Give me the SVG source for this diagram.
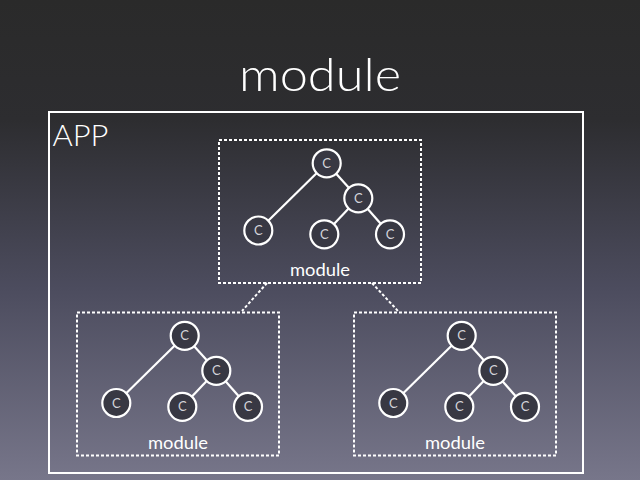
<svg xmlns="http://www.w3.org/2000/svg" width="640" height="480" viewBox="0 0 640 480">
<defs>
<linearGradient id="bg" x1="0" y1="0" x2="0" y2="1">
<stop offset="0" stop-color="#2a2a2a"/>
<stop offset="0.25" stop-color="#2d2d30"/>
<stop offset="0.6" stop-color="#4c4c5e"/>
<stop offset="1" stop-color="#77768a"/>
</linearGradient>
</defs>
<style>
text{font-family:"Lato","Helvetica Neue","Liberation Sans",Arial,sans-serif;fill:#ffffff;font-weight:300;}
.edge{stroke:#ffffff;stroke-width:2.2;}
.node{fill:#383843;stroke:#ffffff;stroke-width:2.2;}
.c{font-size:13px;text-anchor:middle;fill:#d4d4da;font-weight:400;}
.lbl{font-size:17px;text-anchor:middle;fill:#ffffff;font-weight:400;}
.dash{fill:none;stroke:#ffffff;stroke-width:2;stroke-dasharray:3 2;}
.conn{stroke:#ffffff;stroke-width:2;stroke-dasharray:3 2;fill:none;}
</style>
<rect x="0" y="0" width="640" height="480" fill="url(#bg)"/>
<text x="320" y="90.5" font-size="46" text-anchor="middle" textLength="162" lengthAdjust="spacingAndGlyphs">module</text>
<g id="app">
<rect x="49" y="112" width="534" height="361" fill="none" stroke="#ffffff" stroke-width="2"/>
<text x="52.5" y="145.5" font-size="30" textLength="56" lengthAdjust="spacingAndGlyphs">APP</text>
</g>
<g id="connectors">
<line class="conn" x1="267" y1="283" x2="242" y2="311"/>
<line class="conn" x1="372" y1="283" x2="398" y2="311"/>
</g>
<g id="module-top">
<rect x="219" y="140" width="202" height="143" class="dash"/>
<line class="edge" x1="326.7" y1="163.3" x2="258.3" y2="230.5"/>
<line class="edge" x1="326.7" y1="163.3" x2="358.3" y2="198.3"/>
<line class="edge" x1="358.3" y1="198.3" x2="324.3" y2="234.3"/>
<line class="edge" x1="358.3" y1="198.3" x2="390" y2="234.3"/>
<circle class="node" cx="326.7" cy="163.3" r="14"/>
<circle class="node" cx="358.3" cy="198.3" r="14"/>
<circle class="node" cx="258.3" cy="230.5" r="14"/>
<circle class="node" cx="324.3" cy="234.3" r="14"/>
<circle class="node" cx="390" cy="234.3" r="14"/>
<text class="c" x="326.7" y="167.8">C</text>
<text class="c" x="358.3" y="202.8">C</text>
<text class="c" x="258.3" y="235">C</text>
<text class="c" x="324.3" y="238.8">C</text>
<text class="c" x="390" y="238.8">C</text>
<text class="lbl" x="320" y="276" textLength="60" lengthAdjust="spacingAndGlyphs">module</text>
</g>
<g id="module-left">
<rect x="77" y="312.5" width="202" height="143" class="dash"/>
<line class="edge" x1="184.7" y1="335.8" x2="116.3" y2="403"/>
<line class="edge" x1="184.7" y1="335.8" x2="216.3" y2="370.8"/>
<line class="edge" x1="216.3" y1="370.8" x2="182.3" y2="406.8"/>
<line class="edge" x1="216.3" y1="370.8" x2="248" y2="406.8"/>
<circle class="node" cx="184.7" cy="335.8" r="14"/>
<circle class="node" cx="216.3" cy="370.8" r="14"/>
<circle class="node" cx="116.3" cy="403" r="14"/>
<circle class="node" cx="182.3" cy="406.8" r="14"/>
<circle class="node" cx="248" cy="406.8" r="14"/>
<text class="c" x="184.7" y="340.3">C</text>
<text class="c" x="216.3" y="375.3">C</text>
<text class="c" x="116.3" y="407.5">C</text>
<text class="c" x="182.3" y="411.3">C</text>
<text class="c" x="248" y="411.3">C</text>
<text class="lbl" x="178" y="448.5" textLength="60" lengthAdjust="spacingAndGlyphs">module</text>
</g>
<g id="module-right">
<rect x="354" y="312.5" width="202" height="143" class="dash"/>
<line class="edge" x1="461.7" y1="335.8" x2="393.3" y2="403"/>
<line class="edge" x1="461.7" y1="335.8" x2="493.3" y2="370.8"/>
<line class="edge" x1="493.3" y1="370.8" x2="459.3" y2="406.8"/>
<line class="edge" x1="493.3" y1="370.8" x2="525" y2="406.8"/>
<circle class="node" cx="461.7" cy="335.8" r="14"/>
<circle class="node" cx="493.3" cy="370.8" r="14"/>
<circle class="node" cx="393.3" cy="403" r="14"/>
<circle class="node" cx="459.3" cy="406.8" r="14"/>
<circle class="node" cx="525" cy="406.8" r="14"/>
<text class="c" x="461.7" y="340.3">C</text>
<text class="c" x="493.3" y="375.3">C</text>
<text class="c" x="393.3" y="407.5">C</text>
<text class="c" x="459.3" y="411.3">C</text>
<text class="c" x="525" y="411.3">C</text>
<text class="lbl" x="455" y="448.5" textLength="60" lengthAdjust="spacingAndGlyphs">module</text>
</g>
</svg>
